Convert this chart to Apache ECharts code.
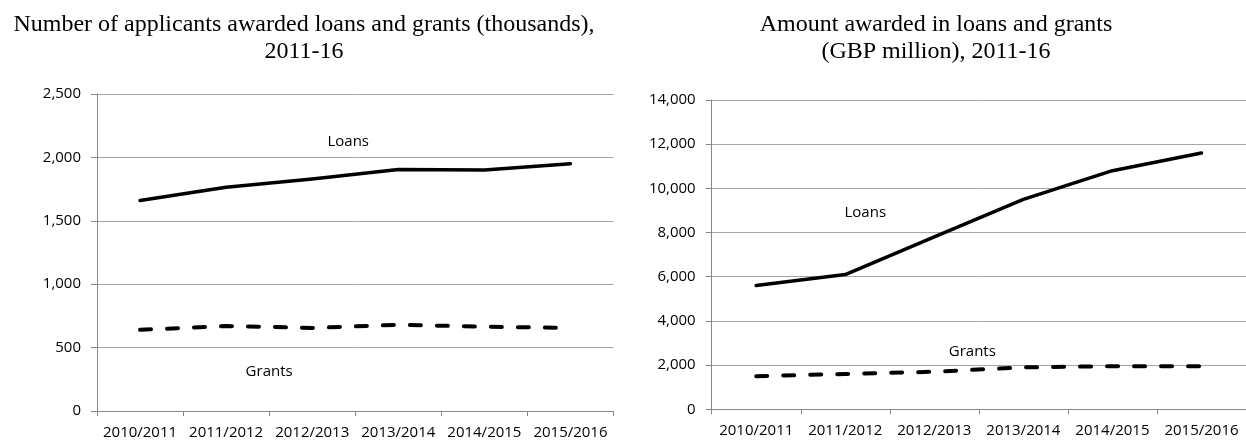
<!DOCTYPE html>
<html>
<head>
<meta charset="utf-8">
<title>Loans and grants awarded, 2011-16</title>
<script src="https://cdn.jsdelivr.net/npm/echarts@6/dist/echarts.min.js"></script>
<style>
  html, body { margin: 0; padding: 0; background: #fff; }
  #chart { width: 1246px; height: 440px; }
</style>
</head>
<body>
<div id="chart"></div>
<script>
// Academic years on the category axis
const years = ['2010/2011', '2011/2012', '2012/2013', '2013/2014', '2014/2015', '2015/2016'];

// Number of applicants awarded (thousands)
const applicantsLoans = [1660, 1765, 1830, 1905, 1900, 1950];
const applicantsGrants = [640, 670, 655, 680, 665, 655];

// Amount awarded (GBP million)
const amountLoans = [5600, 6100, 7800, 9500, 10800, 11600];
const amountGrants = [1500, 1600, 1700, 1900, 1950, 1950];

// Value axis ranges
const applicantsAxis = { min: 0, max: 2500, interval: 500 };
const amountAxis = { min: 0, max: 14000, interval: 2000 };

// Series captions placed inside each panel: [category, value]
const applicantsCaptions = [
  { text: 'Loans', at: [2, 2120], shift: [36, 0] },
  { text: 'Grants', at: [1, 308], shift: [43, 0] }
];
const amountCaptions = [
  { text: 'Loans', at: [1, 8880], shift: [20, 0] },
  { text: 'Grants', at: [2, 2590], shift: [38, 0] }
];

const labelFont = { fontFamily: 'Open Sans', fontSize: 15, color: '#000' };
const titleFont = { fontFamily: 'Liberation Serif', fontSize: 24, color: '#000', fontWeight: 'normal', lineHeight: 27 };
const axisGrey = '#868686';
const gridGrey = '#a6a6a6';

function fmt(v) { return Number(v).toLocaleString('en-US'); }

function captionPoints(list) {
  return {
    symbol: 'circle',
    symbolSize: 0,
    itemStyle: { color: 'transparent' },
    silent: true,
    label: Object.assign({ show: true, position: 'inside' }, labelFont, {
      formatter: p => p.name
    }),
    data: list.map(c => ({ name: c.text, coord: c.at, label: { offset: c.shift } }))
  };
}

function categoryAxis(gridIndex) {
  return {
    type: 'category',
    gridIndex,
    data: years,
    boundaryGap: true,
    axisLine: { show: true, lineStyle: { color: axisGrey, width: 1 } },
    axisTick: { show: true, length: 5, alignWithLabel: false, lineStyle: { color: axisGrey } },
    axisLabel: Object.assign({ margin: 14, interval: 0 }, labelFont),
    splitLine: { show: false }
  };
}

function valueAxis(gridIndex, range) {
  return {
    type: 'value',
    gridIndex,
    min: range.min,
    max: range.max,
    interval: range.interval,
    axisLine: { show: true, lineStyle: { color: axisGrey, width: 1 } },
    axisTick: { show: true, length: 6, lineStyle: { color: axisGrey } },
    axisLabel: Object.assign({ margin: 16, formatter: fmt }, labelFont),
    splitLine: { show: true, lineStyle: { color: gridGrey, width: 1 } }
  };
}

const solid = { color: '#000', width: 3.5, join: 'round', cap: 'round' };
const dashed = { color: '#000', width: 4, type: [11, 16], cap: 'round', join: 'round' };

const chart = echarts.init(document.getElementById('chart'), null, { renderer: 'canvas' });

chart.setOption({
  animation: false,
  backgroundColor: '#fff',
  title: [
    {
      text: 'Number of applicants awarded loans and grants (thousands),\n2011-16',
      left: 304, top: 11, padding: 0, textAlign: 'center',
      textStyle: titleFont
    },
    {
      text: 'Amount awarded in loans and grants\n(GBP million), 2011-16',
      left: 936, top: 11, padding: 0, textAlign: 'center',
      textStyle: titleFont
    }
  ],
  grid: [
    { left: 97, top: 94, width: 516.5, height: 317 },
    { left: 711.7, top: 100, width: 540, height: 309.3 }
  ],
  xAxis: [categoryAxis(0), categoryAxis(1)],
  yAxis: [valueAxis(0, applicantsAxis), valueAxis(1, amountAxis)],
  series: [
    {
      name: 'Loans', type: 'line', xAxisIndex: 0, yAxisIndex: 0,
      data: applicantsLoans, symbol: 'none', lineStyle: solid,
      markPoint: captionPoints(applicantsCaptions)
    },
    {
      name: 'Grants', type: 'line', xAxisIndex: 0, yAxisIndex: 0,
      data: applicantsGrants, symbol: 'none', lineStyle: dashed
    },
    {
      name: 'Loans', type: 'line', xAxisIndex: 1, yAxisIndex: 1,
      data: amountLoans, symbol: 'none', lineStyle: solid,
      markPoint: captionPoints(amountCaptions)
    },
    {
      name: 'Grants', type: 'line', xAxisIndex: 1, yAxisIndex: 1,
      data: amountGrants, symbol: 'none', lineStyle: dashed
    }
  ]
});
</script>
</body>
</html>
